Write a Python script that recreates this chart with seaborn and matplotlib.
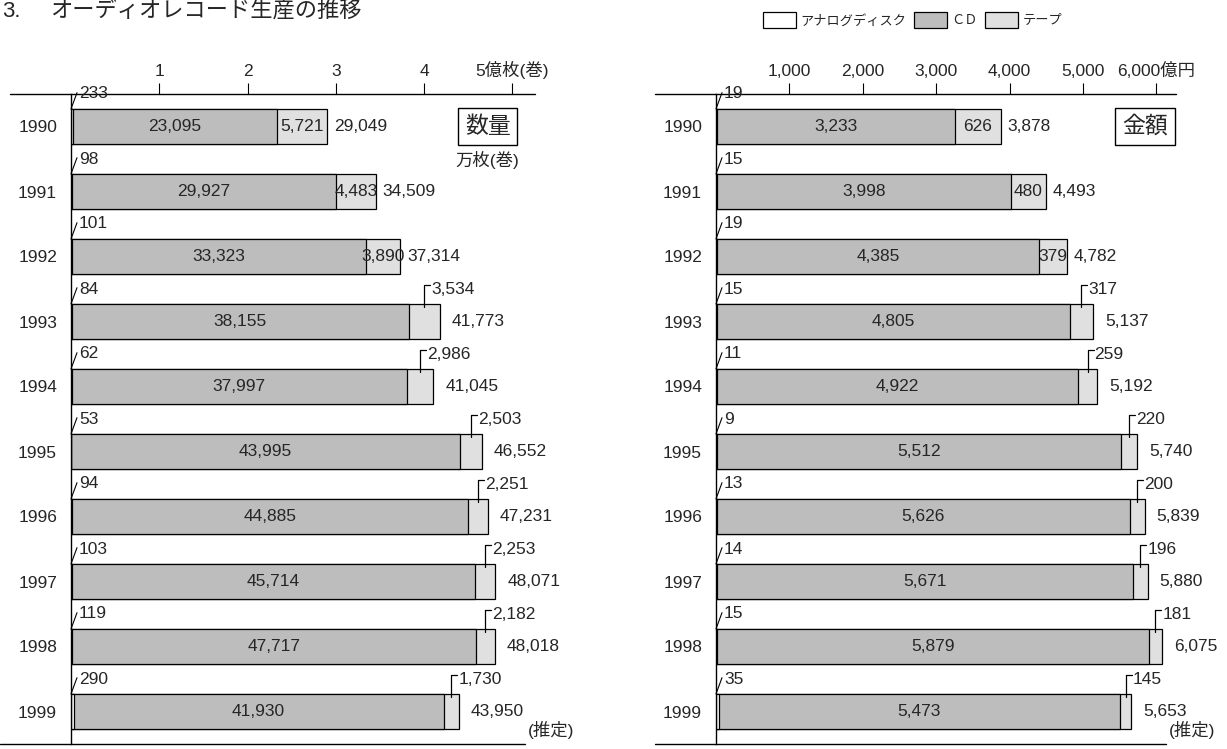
import pandas as pd
import matplotlib.pyplot as plt
import seaborn as sns
from matplotlib.patches import Patch

# data: 万枚(巻) and 億円, 1990-1999
years = ["1990", "1991", "1992", "1993", "1994", "1995", "1996", "1997", "1998", "1999"]

qty_analog = [233, 98, 101, 84, 62, 53, 94, 103, 119, 290]
qty_cd = [23095, 29927, 33323, 38155, 37997, 43995, 44885, 45714, 47717, 41930]
qty_tape = [5721, 4483, 3890, 3534, 2986, 2503, 2251, 2253, 2182, 1730]
qty_total = [29049, 34509, 37314, 41773, 41045, 46552, 47231, 48071, 48018, 43950]

amt_analog = [19, 15, 19, 15, 11, 9, 13, 14, 15, 35]
amt_cd = [3233, 3998, 4385, 4805, 4922, 5512, 5626, 5671, 5879, 5473]
amt_tape = [626, 480, 379, 317, 259, 220, 200, 196, 181, 145]
amt_total = [3878, 4493, 4782, 5137, 5192, 5740, 5839, 5880, 6075, 5653]

qty_ticks = [10000, 20000, 30000, 40000, 50000]
qty_ticklabels = ["1", "2", "3", "4", "5億枚(巻)"]
amt_ticks = [1000, 2000, 3000, 4000, 5000, 6000]
amt_ticklabels = ["1,000", "2,000", "3,000", "4,000", "5,000", "6,000億円"]

sns.set_style("white")
plt.rcParams['font.family'] = ['Liberation Sans', 'Noto Sans CJK JP']

CD_COLOR = "#bdbdbd"
TAPE_COLOR = "#e0e0e0"
FS = 12.5
W, H = 1227, 749

fig = plt.figure(figsize=(W / 100, H / 100), dpi=100)


def draw_panel(left_px, width_px, xmax, top_start_px, bot_start_px,
               analog, cd, tape, total, ticks, ticklabels):
    ax = fig.add_axes([left_px / W, 1 - 744 / H, width_px / W, 650 / H])
    upx = xmax / width_px  # data units per pixel

    # bars are stacked back from the printed totals (the source's 1998 CD figure
    # does not add up, the drawn bar follows the total)
    df = pd.DataFrame({"year": years, "analog": analog, "cd": cd, "tape": tape, "total": total})
    df["a_cd"] = df["total"] - df["tape"]
    for col, c in [("total", TAPE_COLOR), ("a_cd", CD_COLOR), ("analog", "white")]:
        sns.barplot(data=df, x=col, y="year", orient="h", color=c, saturation=1,
                    edgecolor="black", linewidth=0.9, width=0.55, ax=ax)

    ax.set_xlim(0, xmax)
    ax.set_ylim(9.5, -0.5)
    ax.set_xlabel("")
    ax.set_ylabel("")
    for s in ["top", "right", "bottom"]:
        ax.spines[s].set_visible(False)
    ax.spines["left"].set_color("black")
    ax.spines["left"].set_linewidth(1.0)

    ax.xaxis.tick_top()
    ax.set_xticks(ticks)
    ax.set_xticklabels(ticklabels, fontsize=FS)
    ax.tick_params(axis="x", direction="out", length=8, width=0.8, color="black", pad=3)
    ax.tick_params(axis="y", length=0, pad=10, labelsize=FS)

    # top and bottom rules
    ax.plot([(top_start_px - left_px) / width_px, 1.01], [1, 1], transform=ax.transAxes,
            color="black", lw=1.0, clip_on=False)
    ax.plot([(bot_start_px - left_px) / width_px, 0.99], [0, 0], transform=ax.transAxes,
            color="black", lw=1.0, clip_on=False)
    ax.text(0.995, 0.008, "(推定)", transform=ax.transAxes, ha="left", va="bottom", fontsize=FS)

    for i in range(len(years)):
        # analog disc: slanted leader
        ax.plot([0, 6 * upx], [i - 0.27, i - 0.52], color="black", lw=0.8, clip_on=False)
        ax.text(8 * upx, i - 0.5, f"{analog[i]:,}", ha="left", va="center", fontsize=FS)
        # CD
        cd_end = total[i] - tape[i]
        ax.text((analog[i] + cd_end) / 2, i, f"{cd[i]:,}", ha="center", va="center", fontsize=FS)
        # tape
        xm = cd_end + tape[i] / 2
        if i < 3:
            ax.text(xm, i, f"{tape[i]:,}", ha="center", va="center", fontsize=FS)
            pad = 7
        else:
            ax.plot([xm, xm, xm + 6 * upx], [i - 0.22, i - 0.56, i - 0.56], color="black", lw=0.9)
            ax.text(xm + 7 * upx, i - 0.49, f"{tape[i]:,}", ha="left", va="center", fontsize=FS)
            pad = 12
        # total
        ax.text(total[i] + pad * upx, i, f"{total[i]:,}", ha="left", va="center", fontsize=FS)
    return ax


ax1 = draw_panel(71, 459, 52000, 10, 0, qty_analog, qty_cd, qty_tape, qty_total,
                 qty_ticks, qty_ticklabels)
ax2 = draw_panel(716, 455, 6200, 655, 655, amt_analog, amt_cd, amt_tape, amt_total,
                 amt_ticks, amt_ticklabels)

box = dict(boxstyle="square,pad=0.3", facecolor="white", edgecolor="black", linewidth=1.0)
ax1.text(47200, 0, "数量", ha="center", va="center", fontsize=16.5, bbox=box)
ax1.text(47200, 0.52, "万枚(巻)", ha="center", va="center", fontsize=FS)
ax2.text(5845, 0, "金額", ha="center", va="center", fontsize=16.5, bbox=box)

# title
fig.text(0.002, 1 - 1 / H, "3.", ha="left", va="top", fontsize=16)
fig.text(50 / W, 1 - 1 / H, "オーディオレコード生産の推移", ha="left", va="top", fontsize=16)

handles = [Patch(facecolor="white", edgecolor="black", lw=0.9),
           Patch(facecolor=CD_COLOR, edgecolor="black", lw=0.9),
           Patch(facecolor=TAPE_COLOR, edgecolor="black", lw=0.9)]
fig.legend(handles, ["アナログディスク", "ＣＤ", "テープ"], loc="center right",
           bbox_to_anchor=(1062 / W, 1 - 20 / H), ncol=3, frameon=False, fontsize=9.5,
           handlelength=2.5, handleheight=1.5, handletextpad=0.3, columnspacing=0.6,
           borderaxespad=0, borderpad=0)

fig.savefig("out.png", dpi=100)
